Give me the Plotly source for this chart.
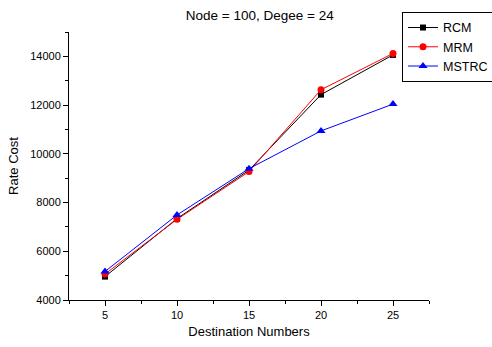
import plotly.graph_objects as go

# Destination count on the x axis
destinations = [5, 10, 15, 20, 25]

# Rate cost per routing scheme
rcm_cost = [4960, 7340, 9330, 12430, 14060]
mrm_cost = [5065, 7310, 9270, 12630, 14120]
mstrc_cost = [5170, 7490, 9390, 10940, 12040]

series = [
    ("RCM", rcm_cost, "#000000", "square", 6),
    ("MRM", mrm_cost, "#ff0000", "circle", 7),
    ("MSTRC", mstrc_cost, "#0000ff", "triangle-up", 8),
]

fig = go.Figure()
for name, values, color, symbol, size in series:
    fig.add_trace(go.Scatter(
        x=destinations, y=values, name=name, mode="lines+markers",
        line=dict(color=color, width=1),
        marker=dict(symbol=symbol, size=size, color=color),
    ))

axis_font = dict(family="Liberation Sans, Arial, sans-serif", size=11, color="#000000")

fig.update_layout(
    width=492, height=347,
    margin=dict(l=69, r=63, t=32, b=47, autoexpand=False),
    paper_bgcolor="white", plot_bgcolor="white",
    font=dict(family="Liberation Sans, Arial, sans-serif", size=12, color="#000000"),
    title=dict(text="Node = 100, Degee = 24", x=0.528, xanchor="center",
               y=0.955, yanchor="middle", font=dict(size=13.5)),
    showlegend=True,
    legend=dict(x=0.925, y=1.075, xanchor="left", yanchor="top",
                bordercolor="#000000", borderwidth=1, bgcolor="white",
                font=dict(size=12.5), tracegroupgap=0, itemwidth=30),
    xaxis=dict(
        range=[2.5, 27.5], tickmode="linear", tick0=5, dtick=5,
        showgrid=False, zeroline=False,
        showline=True, linecolor="#000000", linewidth=1,
        ticks="outside", ticklen=5, tickcolor="#000000", tickfont=axis_font,
        minor=dict(ticks="outside", ticklen=3, tickcolor="#000000", tick0=2.5, dtick=2.5),
        title=dict(text="Destination Numbers", font=dict(size=13), standoff=6),
    ),
    yaxis=dict(
        range=[4000, 15000], tickmode="linear", tick0=4000, dtick=2000,
        tickformat="d",
        showgrid=False, zeroline=False,
        showline=True, linecolor="#000000", linewidth=1,
        ticks="outside", ticklen=5, tickcolor="#000000", tickfont=axis_font,
        minor=dict(ticks="outside", ticklen=3, tickcolor="#000000", tick0=4000, dtick=1000),
        title=dict(text="Rate Cost", font=dict(size=13), standoff=8),
    ),
)

fig.write_html("out.html")
